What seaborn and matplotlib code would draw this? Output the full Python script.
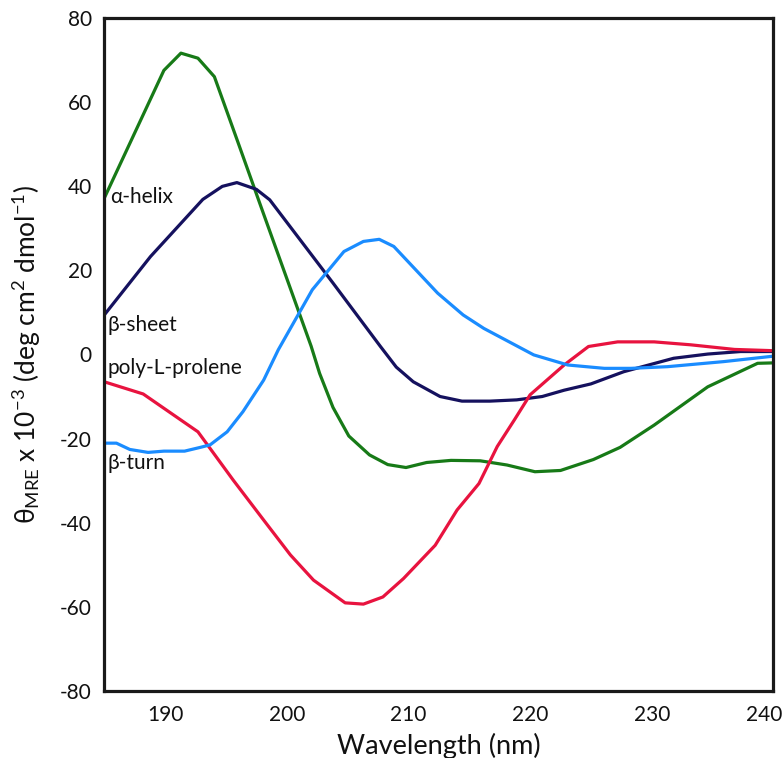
import matplotlib
matplotlib.use("Agg")
import matplotlib.pyplot as plt
import matplotlib.transforms as mtransforms
import seaborn as sns
import pandas as pd

# CD spectra of reference secondary structures (mean residue ellipticity, x10^-3)
helix_nm = [185.0, 189.9, 191.3, 192.7, 194.05, 196.0, 198.0, 200.0, 202.0, 202.7,
            203.8, 205.1, 206.8, 208.3, 209.8, 211.5, 213.5, 215.9, 218.1, 220.4,
            222.5, 225.2, 227.4, 230.2, 234.6, 238.7, 240.0]
helix_val = [37.2, 67.6, 71.7, 70.5, 66.1, 50.4, 34.2, 18.1, 2.0, -4.5,
             -12.6, -19.4, -23.9, -26.2, -26.9, -25.7, -25.2, -25.3, -26.3, -27.9,
             -27.6, -25.0, -22.1, -16.8, -7.7, -2.1, -2.0]

sheet_nm = [185.0, 188.8, 193.1, 194.7, 195.9, 197.5, 198.6, 203.8, 207.7, 209.0,
            210.4, 212.6, 214.4, 216.7, 218.9, 221.0, 222.8, 225.0, 227.7, 231.8,
            234.6, 237.3, 240.0]
sheet_val = [9.4, 23.3, 36.9, 40.0, 40.9, 39.3, 36.8, 17.0, 1.9, -3.0,
             -6.5, -10.0, -11.1, -11.1, -10.8, -10.0, -8.5, -7.0, -4.1, -0.9,
             0.1, 0.7, 0.7]

ppii_nm = [185.0, 188.2, 190.1, 192.7, 195.6, 198.1, 200.3, 202.2, 204.8, 206.3,
           207.9, 209.6, 212.2, 214.0, 215.8, 217.3, 218.7, 220.0, 222.8, 224.8,
           227.2, 230.2, 233.2, 236.8, 240.0]
ppii_val = [-6.5, -9.4, -13.2, -18.4, -29.9, -39.4, -47.7, -53.7, -59.1, -59.4,
            -57.7, -53.3, -45.4, -37.0, -30.7, -21.9, -15.6, -9.6, -2.5, 1.9,
            3.0, 3.0, 2.3, 1.2, 0.9]

turn_nm = [185.0, 186.0, 187.1, 188.6, 189.9, 191.6, 192.9, 193.7, 195.1, 196.4,
           198.1, 199.3, 202.1, 204.7, 206.3, 207.6, 208.8, 212.4, 214.5, 216.2,
           220.3, 223.1, 226.1, 228.3, 231.3, 235.9, 240.0]
turn_val = [-21.1, -21.1, -22.6, -23.3, -23.0, -23.0, -22.1, -21.5, -18.4, -13.6,
            -6.1, 1.1, 15.4, 24.5, 26.9, 27.4, 25.7, 14.6, 9.4, 6.2,
            -0.1, -2.5, -3.3, -3.3, -2.9, -1.7, -0.4]

series_names = ["α-helix", "β-sheet", "poly-L-prolene", "β-turn"]
series_colors = ["#177a17", "#15115e", "#e8133f", "#1a8cff"]
label_y = [37.5, 7.0, -3.2, -25.8]

frames = []
for name, xs, ys in zip(series_names,
                        [helix_nm, sheet_nm, ppii_nm, turn_nm],
                        [helix_val, sheet_val, ppii_val, turn_val]):
    frames.append(pd.DataFrame({"nm": xs, "theta": ys, "structure": name}))
df = pd.concat(frames, ignore_index=True)

sns.set_theme(style="white")
plt.rcParams["font.family"] = ["Lato", "DejaVu Sans"]
plt.rcParams["mathtext.fontset"] = "custom"
plt.rcParams["mathtext.rm"] = "Lato"
plt.rcParams["axes.unicode_minus"] = False

fig = plt.figure(figsize=(7.84, 7.58), dpi=100)
ax = fig.add_axes([0.133, 0.0888, 0.8535, 0.8871])

sns.lineplot(data=df, x="nm", y="theta", hue="structure", hue_order=series_names,
             palette=dict(zip(series_names, series_colors)), sort=False,
             estimator=None, linewidth=2.3, legend=False, ax=ax)

for name, yv in zip(series_names, label_y):
    ax.text(185.45 if name == "α-helix" else 185.3, yv, name, fontsize=15,
            color="#111111", va="center", ha="left")

ax.set_xlim(185, 240)
ax.set_ylim(-80, 80)
ax.set_xticks([190, 200, 210, 220, 230, 240])
ax.set_yticks(list(range(-80, 81, 20)))
ax.tick_params(axis="both", direction="in", length=10, width=1.6,
               labelsize=15, colors="#111111", pad=9)
ax.tick_params(axis="x", pad=10)

# keep the last wavelength label inside the canvas
last = ax.get_xticklabels()[-1]
last.set_transform(last.get_transform() +
                   mtransforms.ScaledTranslation(-7 / 72, 0, fig.dpi_scale_trans))

for side, sp in ax.spines.items():
    sp.set_visible(True)
    sp.set_linewidth(2.3)
    sp.set_color("#1a1a1a")

ax.set_xlabel("Wavelength (nm)", fontsize=19.5, color="#111111", labelpad=6)
ax.set_ylabel(r"$\mathregular{θ_{MRE}}$ x 10$\mathregular{^{-3}}$ (deg cm$\mathregular{^{2}}$ dmol$\mathregular{^{-1}}$)",
              fontsize=19, color="#111111", labelpad=12)

fig.savefig("out.png", dpi=100)
